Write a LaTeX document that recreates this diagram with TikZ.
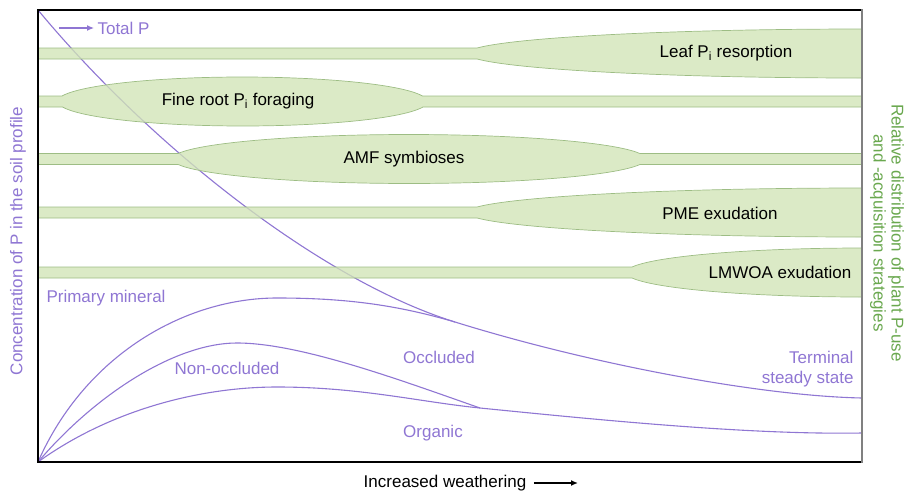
\documentclass[tikz,border=0pt]{standalone}
\usepackage{fontspec}
\setmainfont{Liberation Sans}
\usetikzlibrary{arrows.meta}

\definecolor{phos}{HTML}{8F76D3}
\definecolor{leafgreen}{HTML}{D1E4B6}
\definecolor{leafedge}{HTML}{9DBD84}
\definecolor{axisgreen}{HTML}{6AA84F}

\tikzset{
	band/.style={fill=leafgreen, fill opacity=0.78, draw=leafedge, line width=0.7pt},
	pool/.style={draw=phos, line width=1.1pt},
	plabel/.style={text=phos},
	frame/.style={line width=1.1pt, line cap=rect},
}

\begin{document}
\begin{tikzpicture}[x=1pt, y=-1pt, font=\fontsize{17}{20}\selectfont]
		\useasboundingbox (0,0) rectangle (906,493);

		% soil P pools, drawn first so the bands lie over them
		\draw[pool] (38,10) .. controls (150,145) and (320,280) .. (455,322)
			.. controls (590,364) and (760,396) .. (862,398);
		\draw[pool] (38,462) .. controls (85,355) and (185,298) .. (277,298)
			.. controls (350,298) and (400,306) .. (455,322);
		\draw[pool] (38,462) .. controls (95,395) and (175,343) .. (237,343)
			.. controls (300,343) and (400,380) .. (480,408);
		\draw[pool] (38,462) .. controls (110,410) and (200,387) .. (277,387)
			.. controls (360,387) and (420,402) .. (480,408)
			.. controls (600,420) and (750,435) .. (862,433);

		% plant strategies: thin band, widening where the strategy is used
		\draw[band] (38,48) -- (477,48) arc[start angle=193, end angle=270, x radius=395, y radius=24.5]
			-- (862,78) arc[start angle=90, end angle=167, x radius=395, y radius=24.5] -- (38,59) -- cycle;
		\draw[band] (38,96) -- (62,96) arc[start angle=193, end angle=347, x radius=185, y radius=24.5]
			-- (862,96) -- (862,107) -- (423,107) arc[start angle=13, end angle=167, x radius=185, y radius=24.5]
			-- (38,107) -- cycle;
		\draw[band] (38,153.5) -- (178,153.5) arc[start angle=193, end angle=347, x radius=237, y radius=24.5]
			-- (862,153.5) -- (862,164.5) -- (640,164.5) arc[start angle=13, end angle=167, x radius=237, y radius=24.5]
			-- (38,164.5) -- cycle;
		\draw[band] (38,207) -- (477,207) arc[start angle=193, end angle=270, x radius=395, y radius=24.5]
			-- (862,237) arc[start angle=90, end angle=167, x radius=395, y radius=24.5] -- (38,218) -- cycle;
		\draw[band] (38,267) -- (632,267) arc[start angle=193, end angle=270, x radius=236, y radius=24.5]
			-- (862,297) arc[start angle=90, end angle=167, x radius=236, y radius=24.5] -- (38,278) -- cycle;

		\node (leaf) at (726,53) {Leaf P\textsubscript{i} resorption};
		\node (root) at (238,101) {Fine root P\textsubscript{i} foraging};
		\node (amf) at (404,159) {AMF symbioses};
		\node (pme) at (720,213) {PME exudation};
		\node (lmwoa) at (780,272) {LMWOA exudation};

		% frame
		\draw[frame] (862,10) -- (38,10) -- (38,462) -- (862,462);
		\draw[frame, gray] (862,10) -- (862,462);

		% pool labels
		\node[plabel, anchor=west] (total) at (94,28) {Total P};
		\coordinate (tstart) at (59,28);
		\draw[phos, line width=1.2pt, -{Latex[length=7pt, width=6pt]}] (tstart) -- (total.west);
		\node[plabel, anchor=west] (primary) at (43,298) {Primary mineral};
		\node[plabel] (nonocc) at (227,368) {Non-occluded};
		\node[plabel] (occ) at (439,357) {Occluded};
		\node[plabel] (organic) at (433,433) {Organic};
		\node[plabel, anchor=east, align=right] (terminal) at (857,369) {Terminal\\steady state};

		% axis titles
		\node[plabel, rotate=90] (conc) at (18,241) {Concentration of P in the soil profile};
		\node[text=axisgreen, rotate=-90, align=center] (strategy) at (887,233)
			{Relative distribution of plant P-use\\[-2pt]and -acquisition strategies};
		\node (weather) at (445,483) {Increased weathering};
		\coordinate (wend) at (578,483);
		\draw[line width=1.4pt, -{Latex[length=7pt, width=6pt]}] (weather.east) ++(4,0) -- (wend);
	\end{tikzpicture}
\end{document}
